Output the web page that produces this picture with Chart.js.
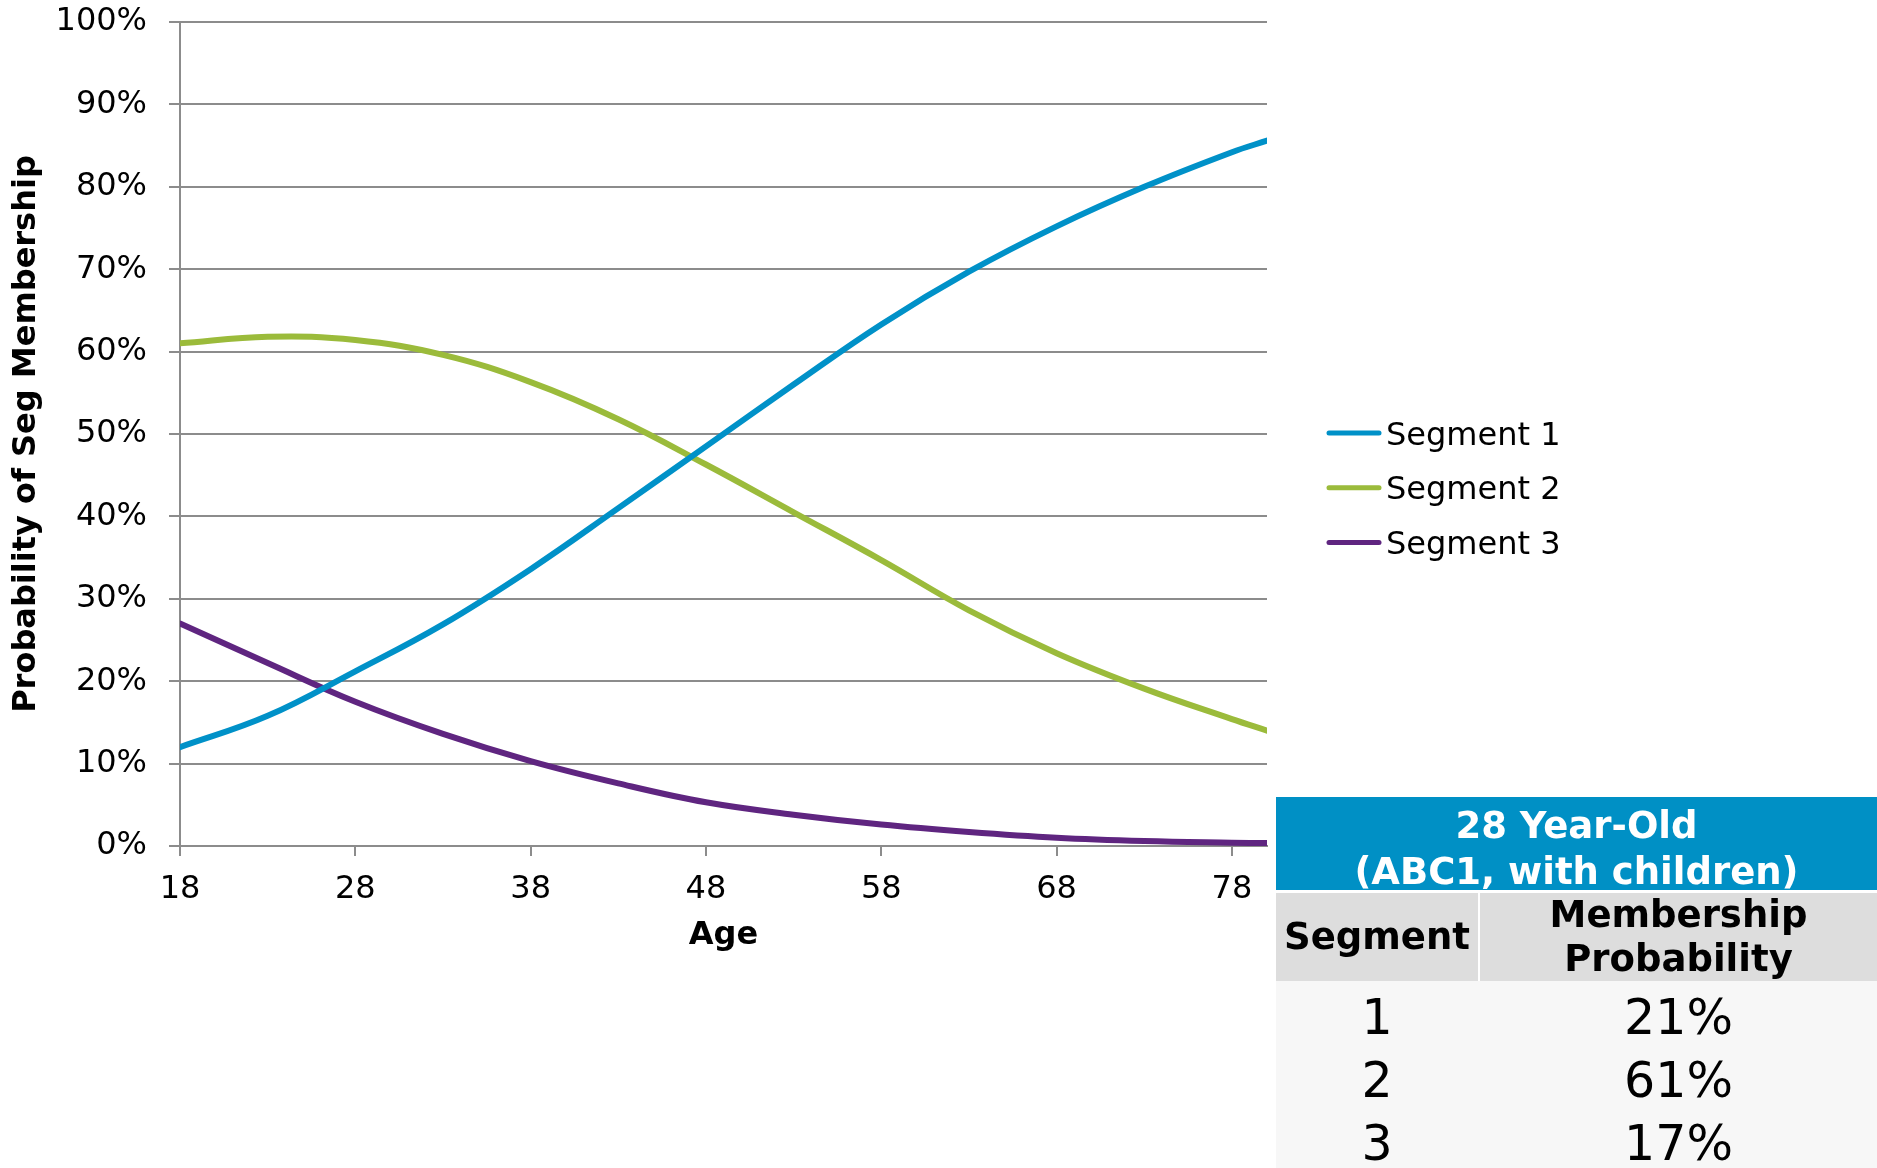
<!DOCTYPE html>
<html>
<head>
<meta charset="utf-8">
<title>Segment membership by age</title>
<script src="https://cdn.jsdelivr.net/npm/chart.js@4.4.1/dist/chart.umd.min.js"></script>
<style>
    html, body { margin: 0; padding: 0; background: #fff; }
    #wrap { position: relative; width: 1877px; height: 1168px; overflow: hidden; }
    #segChart { position: absolute; left: 0; top: 0; }
    #probTable { position: absolute; left: 1276px; top: 797px; width: 601px; font-family: "DejaVu Sans", sans-serif; color: #000; }
    .head { background: #0090c5; color: #fff; font-weight: bold; font-size: 37px; line-height: 46px; height: 93px; padding-top: 6px; box-sizing: border-box; text-align: center; overflow: hidden; white-space: nowrap; }
    .row { display: flex; }
    .sub { margin-top: 3px; height: 88px; }
    .sub div { background: #dddddd; font-weight: bold; font-size: 37px; line-height: 44px; display: flex; align-items: center; justify-content: center; text-align: center; }
    .c1 { width: 202px; }
    .c2 { width: 397px; margin-left: 2px; }
    .body { background: #f7f7f7; padding-top: 5px; height: 300px; }
    .body .row div { font-size: 49px; line-height: 63px; height: 63px; text-align: center; }
</style>
</head>
<body>
<div id="wrap">
    <canvas id="segChart" width="1877" height="1168"></canvas>
    <div id="probTable"></div>
</div>
<script>
const ages = [18, 23, 28, 33, 38, 43, 48, 53, 58, 63, 68, 73, 78, 80];
const segment1 = [12.0, 15.8, 21.2, 26.9, 33.6, 41.0, 48.5, 56.0, 63.3, 69.7, 75.2, 80.0, 84.2, 85.6];
const segment2 = [61.0, 61.8, 61.4, 59.6, 56.3, 51.8, 46.3, 40.5, 34.7, 28.6, 23.4, 19.1, 15.4, 14.0];
const segment3 = [27.0, 22.2, 17.5, 13.6, 10.3, 7.6, 5.3, 3.8, 2.6, 1.7, 1.0, 0.6, 0.4, 0.35];
const seriesNames = ['Segment 1', 'Segment 2', 'Segment 3'];
const seriesColors = ['#0091c8', '#9bbb3b', '#5f2580'];
const ageTicks = [18, 28, 38, 48, 58, 68, 78];

const tableTitle = ['28 Year-Old', '(ABC1, with children)'];
const tableHeaders = ['Segment', 'Membership<br>Probability'];
const tableSegments = ['1', '2', '3'];
const tableProbabilities = ['21%', '61%', '17%'];

const FONT = '"DejaVu Sans", Verdana, sans-serif';

function toPoints(values) {
    return values.map((v, i) => ({ x: ages[i], y: v }));
}

// legend sits to the right of the plot, not centred on it
const sideLegend = {
    id: 'sideLegend',
    afterDraw(chart) {
        const ctx = chart.ctx;
        ctx.save();
        chart.data.datasets.forEach((ds, i) => {
            const y = 433 + i * 54.7;
            ctx.strokeStyle = ds.borderColor;
            ctx.lineWidth = 5;
            ctx.lineCap = 'round';
            ctx.beginPath();
            ctx.moveTo(1329, y);
            ctx.lineTo(1379, y);
            ctx.stroke();
            ctx.fillStyle = '#000';
            ctx.font = '32px ' + FONT;
            ctx.textBaseline = 'alphabetic';
            ctx.fillText(ds.label, 1386, y + 11.5);
        });
        ctx.restore();
    }
};

function loadChartSegments() {
    const datasets = [segment1, segment2, segment3].map((vals, i) => ({
        label: seriesNames[i],
        data: toPoints(vals),
        borderColor: seriesColors[i],
        backgroundColor: seriesColors[i],
        borderWidth: 6,
        borderCapStyle: 'round',
        pointRadius: 0,
        tension: 0.4,
        fill: false
    }));

    new Chart(document.getElementById('segChart'), {
        type: 'line',
        data: { datasets: datasets },
        plugins: [sideLegend],
        options: {
            responsive: false,
            animation: false,
            layout: { padding: { left: 0, top: 22, right: 610, bottom: 213 } },
            plugins: {
                legend: { display: false },
                tooltip: { enabled: false }
            },
            scales: {
                x: {
                    type: 'linear',
                    min: 18,
                    max: 80,
                    afterBuildTicks: axis => { axis.ticks = ageTicks.map(v => ({ value: v })); },
                    afterFit: axis => { axis.height = 109; },
                    grid: { drawOnChartArea: false, drawTicks: true, tickLength: 10, color: '#8c8c8c', lineWidth: 2 },
                    border: { color: '#8c8c8c', width: 2 },
                    ticks: { color: '#000', padding: 14, maxRotation: 0, autoSkip: false, font: { family: FONT, size: 32 } },
                    title: { display: true, text: 'Age', color: '#000', padding: 0, font: { family: FONT, size: 32, weight: 'bold' } }
                },
                y: {
                    min: 0,
                    max: 100,
                    afterFit: axis => {
                        axis.width = 180;
                        axis.paddingTop = 0;
                        axis.paddingBottom = 0;
                    },
                    grid: { color: '#8c8c8c', lineWidth: 2, tickLength: 11 },
                    border: { color: '#8c8c8c', width: 2 },
                    ticks: { stepSize: 10, color: '#000', padding: 22, font: { family: FONT, size: 32 }, callback: v => v + '%' },
                    title: { display: true, text: 'Probability of Seg Membership', color: '#000', padding: 7, font: { family: FONT, size: 32, weight: 'bold' } }
                }
            }
        }
    });
}

function buildTable() {
    let html = '<div class="head">' + tableTitle.join('<br>') + '</div>';
    html += '<div class="row sub"><div class="c1">' + tableHeaders[0] + '</div><div class="c2">' + tableHeaders[1] + '</div></div>';
    html += '<div class="body">';
    tableSegments.forEach((seg, i) => {
        html += '<div class="row"><div class="c1">' + seg + '</div><div class="c2">' + tableProbabilities[i] + '</div></div>';
    });
    html += '</div>';
    document.getElementById('probTable').innerHTML = html;
}

loadChartSegments();
buildTable();
</script>
</body>
</html>
